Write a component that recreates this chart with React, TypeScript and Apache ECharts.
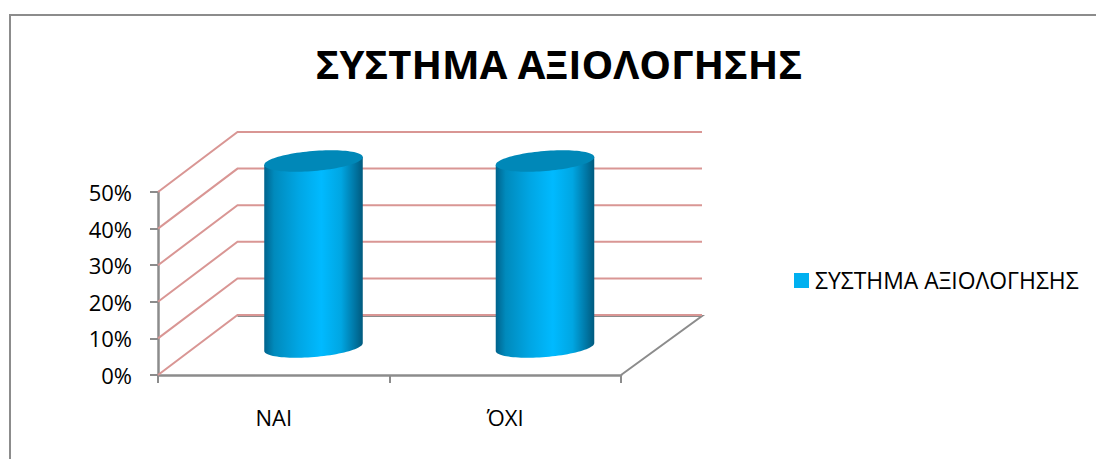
import React, { useEffect, useRef } from "react";
import * as echarts from "echarts";

const titleText = "ΣΥΣΤΗΜΑ ΑΞΙΟΛΟΓΗΣΗΣ";
const categories = ["ΝΑΙ", "ΌΧΙ"];
const seriesValues = [50, 50];
const wallTicks = [0, 10, 20, 30, 40, 50];

const FONT = "'Open Sans', 'Noto Sans', sans-serif";
const AXIS_GRAY = "#8c8c8c";
const WALL_PINK = "#d99694";
const DEPTH_X = 79.5;
const DEPTH_Y = 60;

// Oblique walls: one line along the side and one along the back per axis tick.
function renderWall(params: any, api: any) {
  const { x, width } = params.coordSys;
  const y = api.coord([0, api.value(0)])[1];
  const backY = y - DEPTH_Y;
  const children: any[] = [];
  if (api.value(0) === 0) {
    children.push({
      type: "polyline",
      shape: {
        points: [
          [x + DEPTH_X, backY + 1],
          [x + width + DEPTH_X + 1.5, backY + 1],
          [x + width, y],
        ],
      },
      style: { stroke: AXIS_GRAY, lineWidth: 2, fill: "none" },
    });
  }
  children.push({
    type: "polyline",
    shape: {
      points: [
        [x, y],
        [x + DEPTH_X, backY],
        [x + width + DEPTH_X + 1.5, backY],
      ],
    },
    style: { stroke: WALL_PINK, lineWidth: 2, fill: "none" },
  });
  return { type: "group", children };
}

// Cylinder standing halfway into the floor, tilted slightly like the 3D view.
function renderCylinder(_params: any, api: any) {
  const value = api.value(1);
  const [bx, by] = api.coord([api.value(0), 0]);
  const [, ty] = api.coord([api.value(0), value]);
  const band = api.size([1, 0])[0];
  const cx = bx + DEPTH_X / 2;
  const rx = band * 0.2135;
  const ry = 10;
  const tilt = (4.7 * Math.PI) / 180;
  const topY = ty - DEPTH_Y / 2 - 1;
  const botY = by - DEPTH_Y / 2 + 2;

  // Point on the tilted ellipse at parameter t around its centre.
  const rim = (t: number, cy: number) => [
    cx + rx * Math.cos(t) * Math.cos(tilt) + ry * Math.sin(t) * Math.sin(tilt),
    cy - rx * Math.cos(t) * Math.sin(tilt) + ry * Math.sin(t) * Math.cos(tilt),
  ];
  const steps = 48;
  const body: number[][] = [rim(Math.PI, topY)];
  for (let i = 0; i <= steps; i++) {
    body.push(rim(Math.PI - (Math.PI * i) / steps, botY));
  }
  body.push(rim(0, topY));
  const cap: number[][] = [];
  for (let i = 0; i < steps * 2; i++) {
    cap.push(rim((Math.PI * i) / steps, topY));
  }

  return {
    type: "group",
    children: [
      {
        type: "polygon",
        shape: { points: body },
        style: {
          fill: new echarts.graphic.LinearGradient(0, 0, 1, 0, [
            { offset: 0, color: "#00638c" },
            { offset: 0.1, color: "#008abc" },
            { offset: 0.35, color: "#00a6e4" },
            { offset: 0.58, color: "#00baff" },
            { offset: 0.78, color: "#00a6e2" },
            { offset: 0.92, color: "#0076a4" },
            { offset: 1, color: "#005a7e" },
          ]),
        },
      },
      {
        type: "polygon",
        shape: { points: cap },
        style: { fill: "#0088b8" },
      },
    ],
  };
}

export default function App() {
  const ref = useRef<HTMLDivElement>(null);
  useEffect(() => {
    const chart = echarts.init(ref.current!, null, { renderer: "svg" });
    chart.setOption({
      animation: false,
      backgroundColor: "#ffffff",
      title: {
        text: titleText,
        left: 554,
        top: 38,
        textAlign: "center",
        textStyle: { fontFamily: FONT, fontSize: 40, fontWeight: "bold", color: "#000000" },
      },
      legend: {
        left: 794,
        top: 269,
        padding: 0,
        itemWidth: 15,
        itemHeight: 15,
        itemGap: 0,
        data: [
          {
            name: titleText,
            icon: "rect",
            itemStyle: { color: "#00b0f0", borderWidth: 0 },
          },
        ],
        textStyle: { fontFamily: FONT, fontSize: 22.9, color: "#000000", padding: [0, 0, 0, 1] },
      },
      grid: { left: 158, top: 192, width: 463, height: 183 },
      xAxis: {
        type: "category",
        data: categories,
        boundaryGap: true,
        axisLine: { show: true, lineStyle: { color: AXIS_GRAY, width: 2.5 } },
        axisTick: { show: true, alignWithLabel: false, length: 8, lineStyle: { color: AXIS_GRAY, width: 2 } },
        axisLabel: { margin: 31, fontFamily: FONT, fontSize: 22, color: "#000000" },
      },
      yAxis: {
        type: "value",
        min: 0,
        max: 50,
        interval: 10,
        splitLine: { show: false },
        axisLine: { show: true, lineStyle: { color: AXIS_GRAY, width: 2.5 } },
        axisTick: { show: true, length: 8, lineStyle: { color: AXIS_GRAY, width: 2 } },
        axisLabel: {
          margin: 26,
          formatter: (v: number) => `${v}%`,
          fontFamily: FONT,
          fontSize: 22,
          color: "#000000",
        },
      },
      graphic: [
        {
          type: "polyline",
          shape: { points: [[10, 459], [10, 15], [1096, 15]] },
          style: { stroke: AXIS_GRAY, lineWidth: 2, fill: "none" },
        },
      ],
      series: [
        {
          type: "custom",
          name: "walls",
          z: 1,
          silent: true,
          renderItem: renderWall,
          encode: { y: 0 },
          data: wallTicks,
        },
        {
          type: "custom",
          name: titleText,
          z: 3,
          renderItem: renderCylinder,
          encode: { x: 0, y: 1 },
          data: seriesValues.map((v, i) => [i, v]),
        },
      ],
    });
    return () => chart.dispose();
  }, []);
  return (
    <div
      ref={ref}
      style={{ position: "absolute", left: 0, top: 0, width: 1096, height: 459 }}
    />
  );
}
